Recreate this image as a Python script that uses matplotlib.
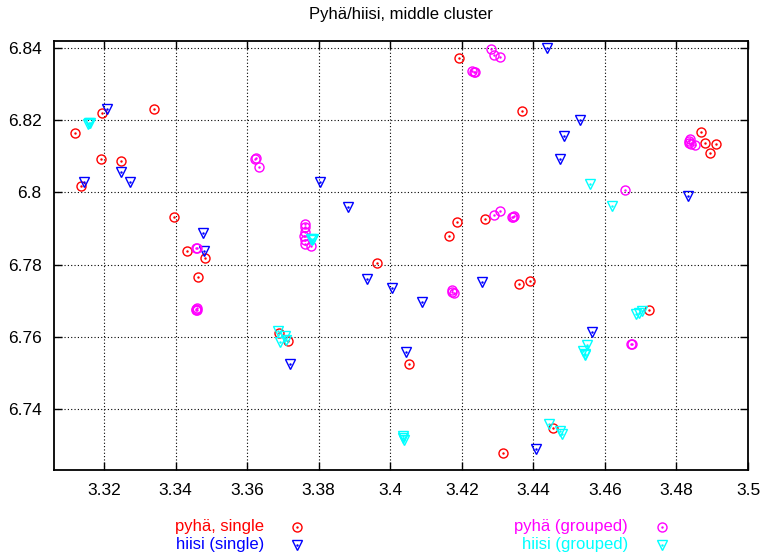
import matplotlib
matplotlib.use("Agg")
import matplotlib.pyplot as plt
from matplotlib.lines import Line2D
from matplotlib.ticker import FuncFormatter, MultipleLocator

plt.rcParams['font.family'] = ['Liberation Sans', 'DejaVu Sans']

# pyhä, single
pyha_single_x = [3.3118, 3.3135, 3.3193, 3.3192, 3.3248, 3.3339, 3.3396, 3.3433, 3.3483, 3.3462,
                 3.3688, 3.3714, 3.3962, 3.4053, 3.4192, 3.4369, 3.4187, 3.4163, 3.4265, 3.4361,
                 3.4391, 3.4454, 3.4314, 3.4724, 3.4868, 3.4879, 3.4910, 3.4893]
pyha_single_y = [6.8163, 6.8017, 6.8221, 6.8092, 6.8087, 6.8230, 6.7933, 6.7838, 6.7817, 6.7766,
                 6.7610, 6.7589, 6.7803, 6.7524, 6.8373, 6.8226, 6.7917, 6.7878, 6.7926, 6.7747,
                 6.7755, 6.7347, 6.7278, 6.7674, 6.8166, 6.8136, 6.8133, 6.8108]

# hiisi (single)
hiisi_single_x = [3.3209, 3.3145, 3.3246, 3.3272, 3.3476, 3.3478, 3.3803, 3.3883, 3.3936, 3.4004,
                  3.3720, 3.4089, 3.4257, 3.4045, 3.4407, 3.4439, 3.4485, 3.4474, 3.4531, 3.4832,
                  3.4565]
hiisi_single_y = [6.8230, 6.8029, 6.8057, 6.8029, 6.7887, 6.7838, 6.8028, 6.7960, 6.7759, 6.7734,
                  6.7525, 6.7696, 6.7751, 6.7558, 6.7290, 6.8399, 6.8155, 6.8092, 6.8200, 6.7991,
                  6.7612]

# pyhä (grouped)
pyha_grouped_x = [3.3459, 3.3456, 3.3458, 3.3459, 3.3461, 3.3457, 3.3625, 3.3621, 3.3634, 3.3763,
                  3.3763, 3.3763, 3.3760, 3.3762, 3.3763, 3.3778, 3.4282, 3.4289, 3.4307, 3.4228,
                  3.4233, 3.4236, 3.4289, 3.4306, 3.4340, 3.4347, 3.4343, 3.4173, 3.4178, 3.4172,
                  3.4655, 3.4836, 3.4841, 3.4852, 3.4834, 3.4839, 3.4675, 3.4672]
pyha_grouped_y = [6.7845, 6.7847, 6.7677, 6.7673, 6.7679, 6.7675, 6.8096, 6.8092, 6.8070, 6.7912,
                  6.7903, 6.7891, 6.7880, 6.7868, 6.7856, 6.7852, 6.8396, 6.8381, 6.8376, 6.8336,
                  6.8332, 6.8333, 6.7936, 6.7947, 6.7931, 6.7935, 6.7933, 6.7725, 6.7720, 6.7729,
                  6.8006, 6.8143, 6.8134, 6.8130, 6.8136, 6.8148, 6.7580, 6.7580]

# hiisi (grouped)
hiisi_grouped_x = [3.3158, 3.3160, 3.3156, 3.3785, 3.3778, 3.3782, 3.3686, 3.3707, 3.3691, 3.3709,
                   3.4036, 3.4037, 3.4035, 3.4444, 3.4475, 3.4481, 3.4559, 3.4619, 3.4549, 3.4539,
                   3.4543, 3.4545, 3.4688, 3.4696, 3.4703]
hiisi_grouped_y = [6.8191, 6.8193, 6.8189, 6.7870, 6.7870, 6.7868, 6.7616, 6.7603, 6.7585, 6.7591,
                   6.7324, 6.7315, 6.7320, 6.7358, 6.7340, 6.7331, 6.8023, 6.7963, 6.7576, 6.7561,
                   6.7549, 6.7552, 6.7663, 6.7667, 6.7672]

title = "Pyhä/hiisi, middle cluster"
labels = ["pyhä, single", "hiisi (single)", "pyhä (grouped)", "hiisi (grouped)"]
colors = ["#ff0000", "#0000ff", "#ff00ff", "#00ffff"]
markers = ["o", "v", "o", "v"]

fig = plt.figure(figsize=(7.6, 5.54), dpi=100)
ax = fig.add_axes([54/760, 1-470.3/554, (748-54)/760, (470.3-40.7)/554])

series = [(pyha_single_x, pyha_single_y), (hiisi_single_x, hiisi_single_y),
          (pyha_grouped_x, pyha_grouped_y), (hiisi_grouped_x, hiisi_grouped_y)]

for (xs, ys), c, m in zip(series, colors, markers):
    ax.plot(xs, ys, linestyle='none', marker=m, markersize=6.5, markerfacecolor='none',
            markeredgecolor=c, markeredgewidth=1.0)
    ax.plot(xs, ys, linestyle='none', marker='.', markersize=1.5, color=c)

ax.set_xlim(3.306, 3.5)
ax.set_ylim(6.723, 6.842)
ax.xaxis.set_major_locator(MultipleLocator(0.02))
ax.yaxis.set_major_locator(MultipleLocator(0.02))
fmt = FuncFormatter(lambda v, p: "%g" % round(v, 4))
ax.xaxis.set_major_formatter(fmt)
ax.yaxis.set_major_formatter(fmt)
ax.tick_params(direction='in', length=6, width=1, top=True, right=True, labelsize=12.5, pad=9)
ax.grid(True, linestyle=(0, (1, 2)), color='black', linewidth=0.8)
for s in ax.spines.values():
    s.set_linewidth(1.3)

fig.text(401/760, 1-14/554, title, ha='center', va='center', fontsize=12)

# legend below the axes
leg_pos = [(264, 297, 527), (264, 297, 545), (628, 662, 527), (628, 662, 545)]
for (tx, mx, yy), lab, c, m in zip(leg_pos, labels, colors, markers):
    fig.text(tx/760, 1-yy/554, lab, ha='right', va='center', color=c, fontsize=12)
    fig.add_artist(Line2D([mx/760], [1-yy/554], transform=fig.transFigure, linestyle='none',
                          marker=m, markersize=6.5, markerfacecolor='none', markeredgecolor=c,
                          markeredgewidth=1.0))
    fig.add_artist(Line2D([mx/760], [1-yy/554], transform=fig.transFigure, linestyle='none',
                          marker='.', markersize=1.5, color=c))

fig.savefig("out.png", dpi=100)
